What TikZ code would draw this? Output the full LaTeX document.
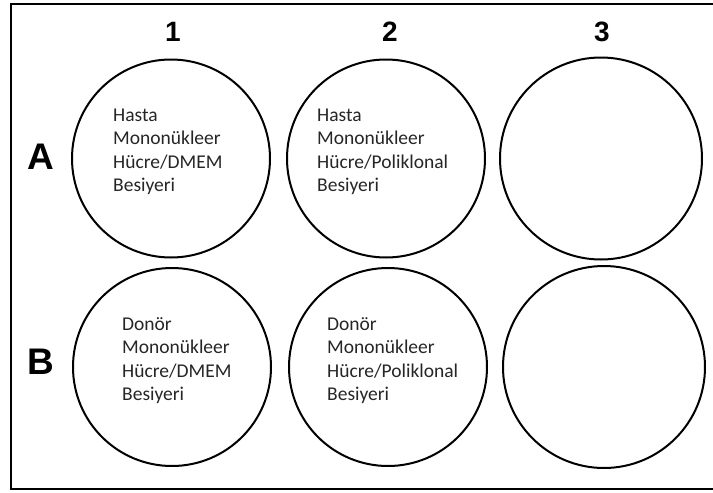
\documentclass[tikz,border=0pt]{standalone}
\usepackage{fontspec}
\setmainfont{Carlito}
\newfontfamily\labelfont{Liberation Sans}
\begin{document}
\begin{tikzpicture}[x=1pt,y=-1pt,
  well/.style={draw=black, line width=2pt, circle, minimum size=198pt, inner sep=0pt},
  welltext/.style={anchor=base west, align=left, inner sep=0pt, text=black!85,
    font=\fontsize{19.5}{23.5}\selectfont},
  collabel/.style={font=\labelfont\bfseries\fontsize{28}{30}\selectfont},
  rowlabel/.style={font=\labelfont\bfseries\fontsize{37}{40}\selectfont}]
\useasboundingbox (0,0) rectangle (713,493);
\draw[line width=2pt] (10.5,3.5) rectangle (715,488.5);
% column labels
\node[collabel] (c1) at (173,31.5) {1};
\node[collabel] (c2) at (390,31.5) {2};
\node[collabel] (c3) at (602,31.5) {3};
% row labels
\node[rowlabel] (rA) at (41,157) {A};
\node[rowlabel] (rB) at (41,362) {B};
% wells
\node[well] (a1) at (171,158.5) {};
\node[well] (a2) at (386,158.5) {};
\node[well, minimum width=202pt] (a3) at (601,158.5) {};
\node[well] (b1) at (172,367) {};
\node[well] (b2) at (388,367) {};
\node[well, minimum width=202pt] (b3) at (604,367) {};
% texts (anchored at the baseline of the last line)
\node[welltext] (ta1) at (113,191.5) {Hasta\\Mononükleer\\Hücre/DMEM\\Besiyeri};
\node[welltext] (ta2) at (317,191.5) {Hasta\\Mononükleer\\Hücre/Poliklonal\\Besiyeri};
\node[welltext] (tb1) at (122,400.5) {Donör\\Mononükleer\\Hücre/DMEM\\Besiyeri};
\node[welltext] (tb2) at (327,400.5) {Donör\\Mononükleer\\Hücre/Poliklonal\\Besiyeri};
\end{tikzpicture}
\end{document}
